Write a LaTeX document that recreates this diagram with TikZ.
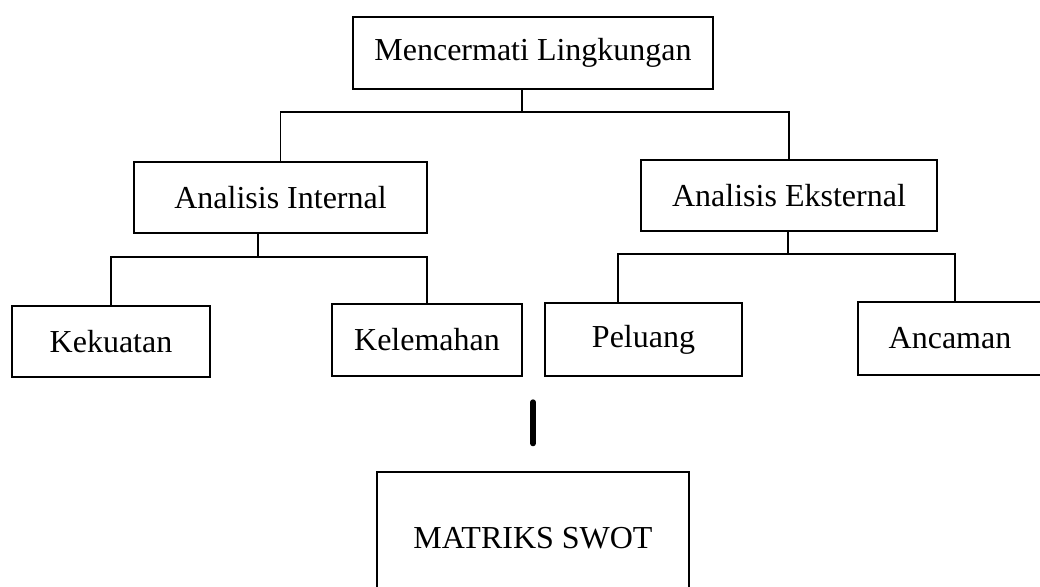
\documentclass[tikz,border=0pt]{standalone}
\usepackage{fontspec}
\setmainfont{Liberation Serif}
\usetikzlibrary{positioning}

\begin{document}
\begin{tikzpicture}[x=1pt, y=-1pt,
    box/.style={draw, rectangle, line width=1.4pt, inner sep=0pt, font=\fontsize{32}{38}\selectfont},
    link/.style={line width=1.4pt},
    bar/.style={line width=6pt, line cap=round}
]
\useasboundingbox (0,0) rectangle (1040,586);

% Top level
\node[box, minimum width=360pt, minimum height=72pt] (env) at (533,53) {Mencermati Lingkungan};

% Internal / external analysis
\node[box, minimum width=293pt, minimum height=71pt] (int) at (280.5,197.5) {Analisis Internal};
\node[box, minimum width=296pt, minimum height=71pt] (ext) at (789,195.5) {Analisis Eksternal};

% SWOT factors
\node[box, minimum width=198pt, minimum height=71pt] (str) at (111,341.5) {Kekuatan};
\node[box, minimum width=190pt, minimum height=72pt] (weak) at (427,340) {Kelemahan};
\node[box, minimum width=197pt, minimum height=73pt] (opp) at (643.5,339.5) {Peluang};
\node[box, minimum width=184pt, minimum height=73pt] (thr) at (950,338.5) {Ancaman};

% Result (bottom edge runs off the page)
\node[box, minimum width=312pt, minimum height=132pt] (swot) at (533,538) {MATRIKS SWOT};

% Junctions of the tree
\coordinate (j0) at (522,112);
\coordinate (j1) at (258,257);
\coordinate (j2) at (788,254);

% Connectors
\draw[link] (env.south -| j0) -- (j0);
\draw[link] (int.north) |- (j0) -| (ext.north);

\draw[link] (int.south -| j1) -- (j1);
\draw[link] (str.north) |- (j1) -| (weak.north);

\draw[link] (ext.south -| j2) -- (j2);
\draw[link] ([xshift=-25.5pt]opp.north) |- (j2) -| ([xshift=5pt]thr.north);

% Thick bar above the matrix
\draw[bar] (swot.north) ++(0,-69) -- ++(0,41);

\end{tikzpicture}
\end{document}
